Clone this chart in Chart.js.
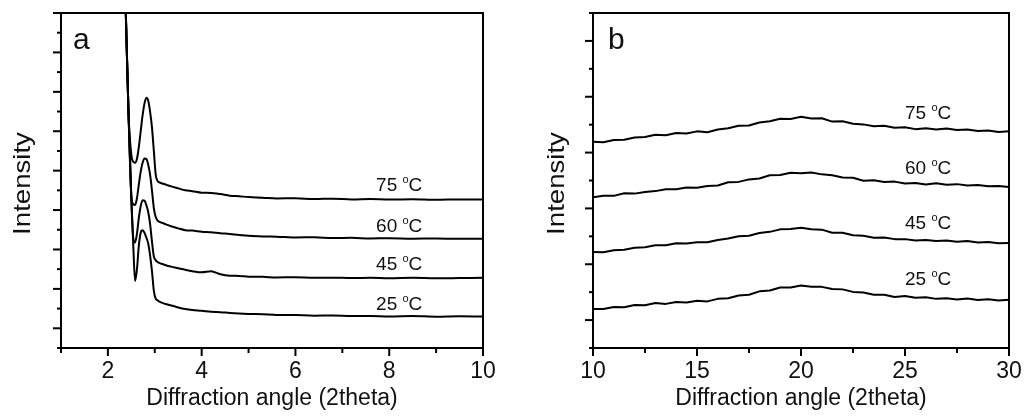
<!DOCTYPE html>
<html>
<head>
<meta charset="utf-8">
<script src="https://cdn.jsdelivr.net/npm/chart.js@4.4.1/dist/chart.umd.min.js"></script>
<style>
  body { margin: 0; background: #fff; }
  #wrap { position: relative; width: 1026px; height: 420px; }
  canvas { position: absolute; top: 0; }
  #panelA { left: 0; }
  #panelB { left: 520px; }
</style>
</head>
<body>
<div id="wrap">
  <canvas id="panelA" width="520" height="420"></canvas>
  <canvas id="panelB" width="506" height="420"></canvas>
</div>
<script>
/* DATA: panel a (low angle) */
const angleA = [2.30, 2.38, 2.44, 2.50, 2.54, 2.58, 2.62, 2.66, 2.70, 2.74, 2.78, 2.82, 2.86, 2.90, 2.94,
  2.98, 3.02, 3.06, 3.10, 3.16, 3.25, 3.35, 3.5, 3.65, 3.8, 4.0, 4.2, 4.4, 4.6, 4.8, 5.0, 5.3, 5.6,
  6.0, 6.4, 6.8, 7.2, 7.6, 8.0, 8.5, 9.0, 9.5, 10.0];
const a75 = [244, 172, 119, 98, 94.5, 94, 96, 102, 110, 118, 124, 127, 125.5, 120, 112,
  100, 88, 84.8, 84.0, 83.5, 82.8, 82.0, 81.0, 80.0, 79.6, 78.8, 78.7, 78.1, 77.3, 77.0, 76.6, 76.3, 75.9,
  76.0, 75.6, 75.8, 75.4, 75.6, 75.3, 75.5, 75.2, 75.4, 75.3];
const a60 = [244, 172, 119, 77, 73, 72.6, 76, 83, 89.5, 94, 96.2, 96, 93, 88, 80,
  71, 66.5, 64.6, 64.0, 63.5, 62.6, 61.8, 60.7, 59.8, 59.6, 59.0, 58.7, 58.2, 57.9, 57.3, 57.0, 56.6, 56.5,
  56.1, 56.2, 55.8, 55.9, 55.6, 55.7, 55.5, 55.6, 55.4, 55.5];
const a45 = [244, 172, 119, 75.6, 56, 53.5, 58, 66, 72, 75, 74.8, 72.5, 69, 63, 54,
  46.5, 44.6, 43.6, 43.1, 42.6, 41.9, 41.3, 40.5, 39.7, 39.0, 38.4, 38.9, 37.4, 36.7, 36.6, 36.2, 36.1, 35.8,
  35.9, 35.6, 35.7, 35.5, 35.6, 35.4, 35.6, 35.4, 35.5, 35.6];
const a25 = [244, 172, 119, 75.6, 52.8, 34, 40, 52, 58.5, 59.8, 58.5, 56, 53, 47, 39,
  29, 25.0, 24.2, 23.5, 22.9, 22.2, 21.6, 20.6, 19.8, 19.3, 18.9, 18.4, 18.2, 17.8, 17.5, 17.3, 17.1, 16.8,
  16.7, 16.4, 16.5, 16.2, 16.3, 16.0, 16.2, 15.9, 16.1, 16.0];

/* DATA: panel b (wide angle) */
const angleB = [10, 10.5, 11, 11.5, 12, 12.5, 13, 13.5, 14, 14.5, 15, 15.5, 16, 16.5, 17, 17.5, 18, 18.5,
  19, 19.5, 20, 20.5, 21, 21.5, 22, 22.5, 23, 23.5, 24, 24.5, 25, 25.5, 26, 26.5, 27, 27.5, 28, 28.5,
  29, 29.5, 30];
const b75 = [73.9, 73.7, 74.5, 74.6, 75.4, 75.6, 76.4, 76.2, 77.0, 76.8, 77.6, 77.3, 78.3, 78.7, 79.6,
  79.7, 80.8, 81.2, 82.1, 82.0, 82.8, 82.2, 82.3, 81.1, 81.2, 80.3, 80.1, 79.4, 79.6, 78.9, 79.1, 78.4,
  78.7, 78.3, 78.6, 78.1, 78.3, 77.7, 77.9, 77.4, 77.6];
const b60 = [54.0, 54.5, 54.5, 55.4, 55.3, 55.9, 56.2, 56.9, 56.9, 57.5, 57.4, 58.0, 58.2, 59.4, 59.5,
  60.4, 60.7, 61.9, 62.0, 62.8, 62.6, 62.9, 62.2, 61.9, 61.1, 61.0, 59.9, 60.1, 59.5, 59.6, 58.9, 59.1,
  58.6, 59.0, 58.5, 58.7, 58.2, 58.4, 57.9, 58.0, 57.7];
const b45 = [34.4, 34.3, 35.0, 35.2, 35.9, 36.1, 36.8, 36.8, 37.5, 37.4, 37.9, 37.9, 38.7, 39.2, 40.0,
  40.2, 41.2, 41.6, 42.5, 42.6, 43.1, 42.5, 42.4, 41.3, 41.3, 40.4, 40.2, 39.5, 39.6, 39.0, 39.0, 38.5,
  38.7, 38.3, 38.5, 38.1, 38.3, 37.8, 38.0, 37.5, 37.6];
const b25 = [14.0, 14.0, 14.7, 14.6, 15.4, 15.3, 16.1, 15.8, 16.5, 16.3, 16.9, 16.7, 17.6, 17.8, 18.8,
  19.1, 20.3, 20.6, 21.7, 21.7, 22.4, 21.9, 21.9, 21.1, 21.0, 20.1, 19.9, 19.1, 19.1, 18.3, 18.6, 18.0,
  18.2, 17.6, 17.8, 17.4, 17.7, 17.2, 17.5, 17.0, 17.3];

const temps = ['75', '60', '45', '25'];
// label anchors, in data units (left edge, vertical centre)
const tagsA = { x: 7.72, y: [83.2, 62.4, 43.1, 22.8] };
const tagsB = { x: 25.0, y: [84.6, 64.9, 45.2, 24.9] };

const FONT = '"Liberation Sans", Arial, Helvetica, sans-serif';
const INK = '#111';

const pts = (xs, ys) => xs.map((x, i) => ({ x, y: ys[i] }));
const line = (xs, ys, smooth) => ({
  data: pts(xs, ys),
  borderColor: '#000',
  borderWidth: 2,
  pointRadius: 0,
  borderJoinStyle: 'round',
  cubicInterpolationMode: smooth ? 'monotone' : 'default',
  tension: 0,
});

/* PLUGIN: box, ticks and texts */
const frame = {
  id: 'frame',
  afterDraw(chart, args, o) {
    const { ctx, chartArea: a, scales: { x, y } } = chart;
    ctx.save();
    ctx.strokeStyle = '#000';
    ctx.fillStyle = INK;
    ctx.lineWidth = 2;
    ctx.strokeRect(a.left, a.top, a.right - a.left, a.bottom - a.top);

    ctx.font = '23px ' + FONT;
    ctx.textAlign = 'center';
    ctx.textBaseline = 'alphabetic';
    x.ticks.forEach((t) => {
      const px = x.getPixelForValue(t.value);
      const major = o.xMajor(t.value);
      ctx.beginPath();
      ctx.moveTo(px, a.bottom);
      ctx.lineTo(px, a.bottom + (major ? 8 : 5));
      ctx.stroke();
      if (major) ctx.fillText(String(t.value), px, a.bottom + 30);
    });
    y.ticks.forEach((t) => {
      const py = y.getPixelForValue(t.value);
      const major = o.yMajor(t.value);
      ctx.beginPath();
      ctx.moveTo(a.left, py);
      ctx.lineTo(a.left - (major ? 8 : 4), py);
      ctx.stroke();
    });

    // x title
    ctx.font = '23px ' + FONT;
    ctx.fillText('Diffraction angle (2theta)', (a.left + a.right) / 2, 405);

    // y title
    ctx.save();
    ctx.font = '24px ' + FONT;
    ctx.translate(o.yTitleX, 183.5);
    ctx.rotate(-Math.PI / 2);
    ctx.scale(1.15, 1);
    ctx.fillText('Intensity', 0, 0);
    ctx.restore();

    // panel letter
    ctx.textAlign = 'left';
    ctx.font = '30px ' + FONT;
    ctx.fillText(o.letter, a.left + o.letterDx, 49);

    // temperature tags
    const tx = x.getPixelForValue(o.tags.x);
    o.tags.y.forEach((v, i) => {
      const base = y.getPixelForValue(v) + 7;
      ctx.font = '19px ' + FONT;
      const num = temps[i] + ' ';
      ctx.fillText(num, tx, base);
      let cx = tx + ctx.measureText(num).width;
      ctx.font = '11px ' + FONT;
      ctx.fillText('o', cx, base - 8);
      cx += ctx.measureText('o').width;
      ctx.font = '19px ' + FONT;
      ctx.fillText('C', cx, base);
    });
    ctx.restore();
  },
};

function makeChart(id, cfg) {
  return new Chart(document.getElementById(id), {
    type: 'line',
    data: { datasets: cfg.datasets },
    options: {
      responsive: false,
      animation: false,
      devicePixelRatio: 1,
      layout: { padding: cfg.padding },
      scales: {
        x: { type: 'linear', display: false, min: cfg.xMin, max: cfg.xMax, ticks: { stepSize: cfg.xStep } },
        y: { type: 'linear', display: false, min: 0, max: cfg.yMax, ticks: { stepSize: 10 } },
      },
      plugins: {
        legend: { display: false },
        tooltip: { enabled: false },
        frame: cfg.frame,
      },
    },
    plugins: [frame],
  });
}

makeChart('panelA', {
  datasets: [
    line(angleA, a75, true),
    line(angleA, a60, true),
    line(angleA, a45, true),
    line(angleA, a25, true),
  ],
  padding: { left: 61, right: 37, top: 13, bottom: 72 },
  xMin: 1, xMax: 10, xStep: 1, yMax: 170,
  frame: {
    xMajor: (v) => v % 2 === 0,
    yMajor: (v) => v % 20 === 10,
    yTitleX: 30,
    letter: 'a',
    letterDx: 12,
    tags: tagsA,
  },
});

makeChart('panelB', {
  datasets: [
    line(angleB, b75, false),
    line(angleB, b60, false),
    line(angleB, b45, false),
    line(angleB, b25, false),
  ],
  padding: { left: 73, right: 17, top: 13, bottom: 72 },
  xMin: 10, xMax: 30, xStep: 2.5, yMax: 120,
  frame: {
    xMajor: (v) => v % 5 === 0,
    yMajor: (v) => v % 20 === 10,
    yTitleX: 44,
    letter: 'b',
    letterDx: 15,
    tags: tagsB,
  },
});
</script>
</body>
</html>
